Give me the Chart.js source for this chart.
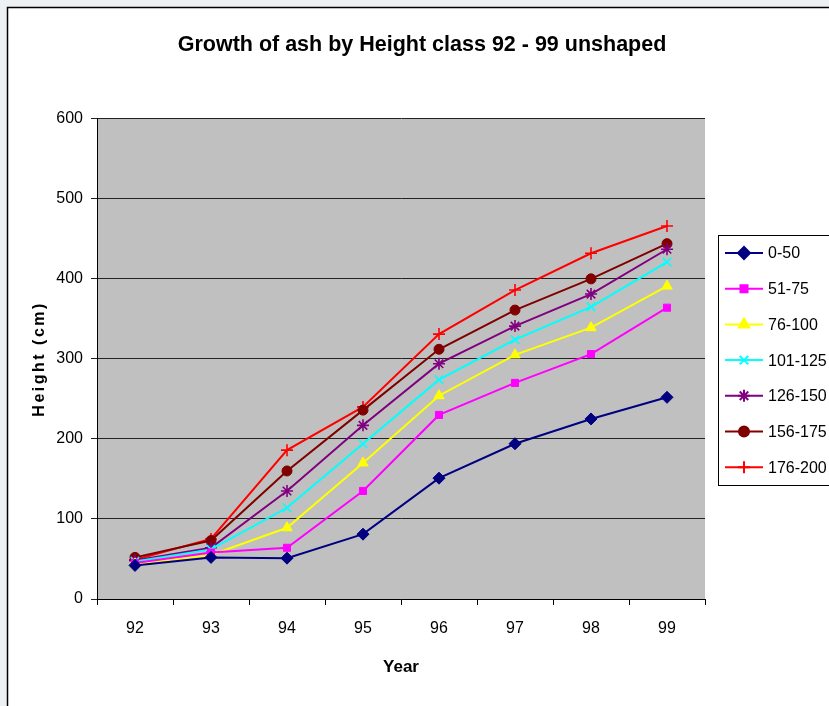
<!DOCTYPE html>
<html>
<head>
<meta charset="utf-8">
<script src="https://cdn.jsdelivr.net/npm/chart.js@4.4.1/dist/chart.umd.min.js"></script>
<style>
  html, body { margin: 0; padding: 0; background: #fff; }
  #wrap { width: 829px; height: 706px; }
</style>
</head>
<body>
<div id="wrap"><canvas id="growthChart" width="829" height="706"></canvas></div>
<script>
var years = ['92', '93', '94', '95', '96', '97', '98', '99'];
var classNames = ['0-50', '51-75', '76-100', '101-125', '126-150', '156-175', '176-200'];

var h0_50    = [42, 52, 51, 81, 151, 194, 225, 252];
var h51_75   = [45, 58, 64, 135, 230, 270, 306, 364];
var h76_100  = [44, 55, 89, 170, 254, 305, 339, 391];
var h101_125 = [47, 62, 114, 194, 274, 324, 365, 421];
var h126_150 = [48, 64, 135, 217, 294, 341, 381, 437];
var h156_175 = [52, 73, 160, 236, 312, 361, 400, 444];
var h176_200 = [49, 75, 186, 240, 331, 386, 432, 466];

var yTicks = [0, 100, 200, 300, 400, 500, 600];

var seriesValues = [h0_50, h51_75, h76_100, h101_125, h126_150, h156_175, h176_200];
var colours = ['#000080', '#FF00FF', '#FFFF00', '#00FFFF', '#800080', '#800000', '#FF0000'];
var markers = ['rectRot', 'rect', 'triangle', 'crossRot', 'star', 'circle', 'cross'];
var radii = [6, 5, 6, 6, 6, 5, 6];

var font = "'Liberation Sans', Arial, sans-serif";

var datasets = [];
for (var i = 0; i < classNames.length; i++) {
    datasets.push({
        label: classNames[i],
        data: seriesValues[i],
        borderColor: colours[i],
        backgroundColor: colours[i],
        borderWidth: 2,
        pointStyle: markers[i],
        pointRadius: radii[i],
        pointHoverRadius: radii[i],
        pointBorderWidth: (markers[i] == 'crossRot' || markers[i] == 'star' || markers[i] == 'cross') ? 1.6 : 1,
        tension: 0
    });
}

// grey plot area, outer frame and a hand drawn legend box (line + marker like the original)
var decor = {
    id: 'decor',
    beforeDraw: function(chart) {
        var ctx = chart.ctx;
        var a = chart.chartArea;
        ctx.save();
        ctx.fillStyle = '#ffffff';
        ctx.fillRect(0, 0, chart.width, chart.height);
        ctx.fillStyle = '#eef1f4';
        ctx.fillRect(0, 0, chart.width, 7);
        ctx.fillRect(0, 0, 7, chart.height);
        ctx.strokeStyle = '#000';
        ctx.lineWidth = 1.5;
        ctx.beginPath();
        ctx.moveTo(7.5, chart.height);
        ctx.lineTo(7.5, 7.5);
        ctx.lineTo(chart.width, 7.5);
        ctx.stroke();
        ctx.fillStyle = '#C0C0C0';
        ctx.fillRect(a.left, a.top, a.right - a.left, a.bottom - a.top);
        ctx.restore();

        // spaced out y axis title
        var ys = chart.scales.y;
        if (ys && !ys._spaced) {
            var orig = ys.drawTitle;
            ys.drawTitle = function() {
                this.ctx.save();
                this.ctx.letterSpacing = '2.5px';
                orig.apply(this, arguments);
                this.ctx.restore();
            };
            ys._spaced = true;
        }
    },
    afterDraw: function(chart) {
        var ctx = chart.ctx;
        var bx = 718, by = 235, bw = 130, bh = 250;
        ctx.save();
        ctx.fillStyle = '#fff';
        ctx.fillRect(bx, by, bw, bh);
        ctx.strokeStyle = '#000';
        ctx.lineWidth = 1;
        ctx.strokeRect(bx + 0.5, by + 0.5, bw, bh);
        ctx.font = '16px ' + font;
        ctx.textBaseline = 'middle';
        ctx.textAlign = 'left';
        for (var i = 0; i < chart.data.datasets.length; i++) {
            var ds = chart.data.datasets[i];
            var yy = 253 + i * 35.7;
            ctx.strokeStyle = ds.borderColor;
            ctx.lineWidth = 2;
            ctx.beginPath();
            ctx.moveTo(725, yy);
            ctx.lineTo(763, yy);
            ctx.stroke();
            ctx.fillStyle = ds.backgroundColor;
            if (Chart.helpers && Chart.helpers.drawPoint) {
                Chart.helpers.drawPoint(ctx, {
                    pointStyle: ds.pointStyle,
                    radius: ds.pointRadius,
                    borderWidth: ds.pointBorderWidth,
                    rotation: 0
                }, 744, yy);
            }
            ctx.fillStyle = '#000';
            ctx.fillText(ds.label, 768, yy + 1);
        }
        ctx.restore();
    }
};

const ctx = document.getElementById('growthChart').getContext('2d');

const chart = new Chart(ctx, {
    type: 'line',
    data: {
        labels: years,
        datasets: datasets
    },
    options: {
        responsive: false,
        animation: false,
        layout: {
            padding: { left: 15, right: 0, top: 0, bottom: 0 }
        },
        plugins: {
            legend: { display: false },
            tooltip: { enabled: false },
            title: {
                display: true,
                text: 'Growth of ash by Height class 92 - 99 unshaped',
                color: '#000',
                font: { family: font, size: 21.5, weight: 'bold' },
                padding: { top: 32, bottom: 61 }
            }
        },
        scales: {
            x: {
                offset: true,
                grid: {
                    offset: true,
                    drawOnChartArea: false,
                    drawTicks: true,
                    tickLength: 6,
                    color: '#000'
                },
                border: { color: '#000', width: 1 },
                ticks: {
                    color: '#000',
                    font: { family: font, size: 16 },
                    padding: 14,
                    maxRotation: 0
                },
                title: {
                    display: true,
                    text: 'Year',
                    color: '#000',
                    font: { family: font, size: 17, weight: 'bold' },
                    padding: { top: 0, bottom: 28 }
                },
                afterFit: function(scale) { scale.height = 107; }
            },
            y: {
                min: 0,
                max: 600,
                afterBuildTicks: function(scale) {
                    scale.ticks = yTicks.map(function(v) { return { value: v }; });
                },
                grid: {
                    color: '#222',
                    drawTicks: true,
                    tickLength: 6
                },
                border: { color: '#000', width: 1 },
                ticks: {
                    color: '#000',
                    font: { family: font, size: 16 },
                    padding: 8
                },
                title: {
                    display: true,
                    text: 'Height (cm)',
                    color: '#000',
                    font: { family: font, size: 16, weight: 'bold' },
                    padding: { top: 15, bottom: 0 }
                },
                afterFit: function(scale) { scale.width = 82; }
            },
            // empty right-hand strip that leaves room for the legend box
            side: {
                type: 'linear',
                position: 'right',
                display: true,
                grid: { display: false, drawTicks: false },
                border: { display: false },
                ticks: { display: false },
                afterFit: function(scale) { scale.width = 124; }
            }
        }
    },
    plugins: [decor]
});
</script>
</body>
</html>
